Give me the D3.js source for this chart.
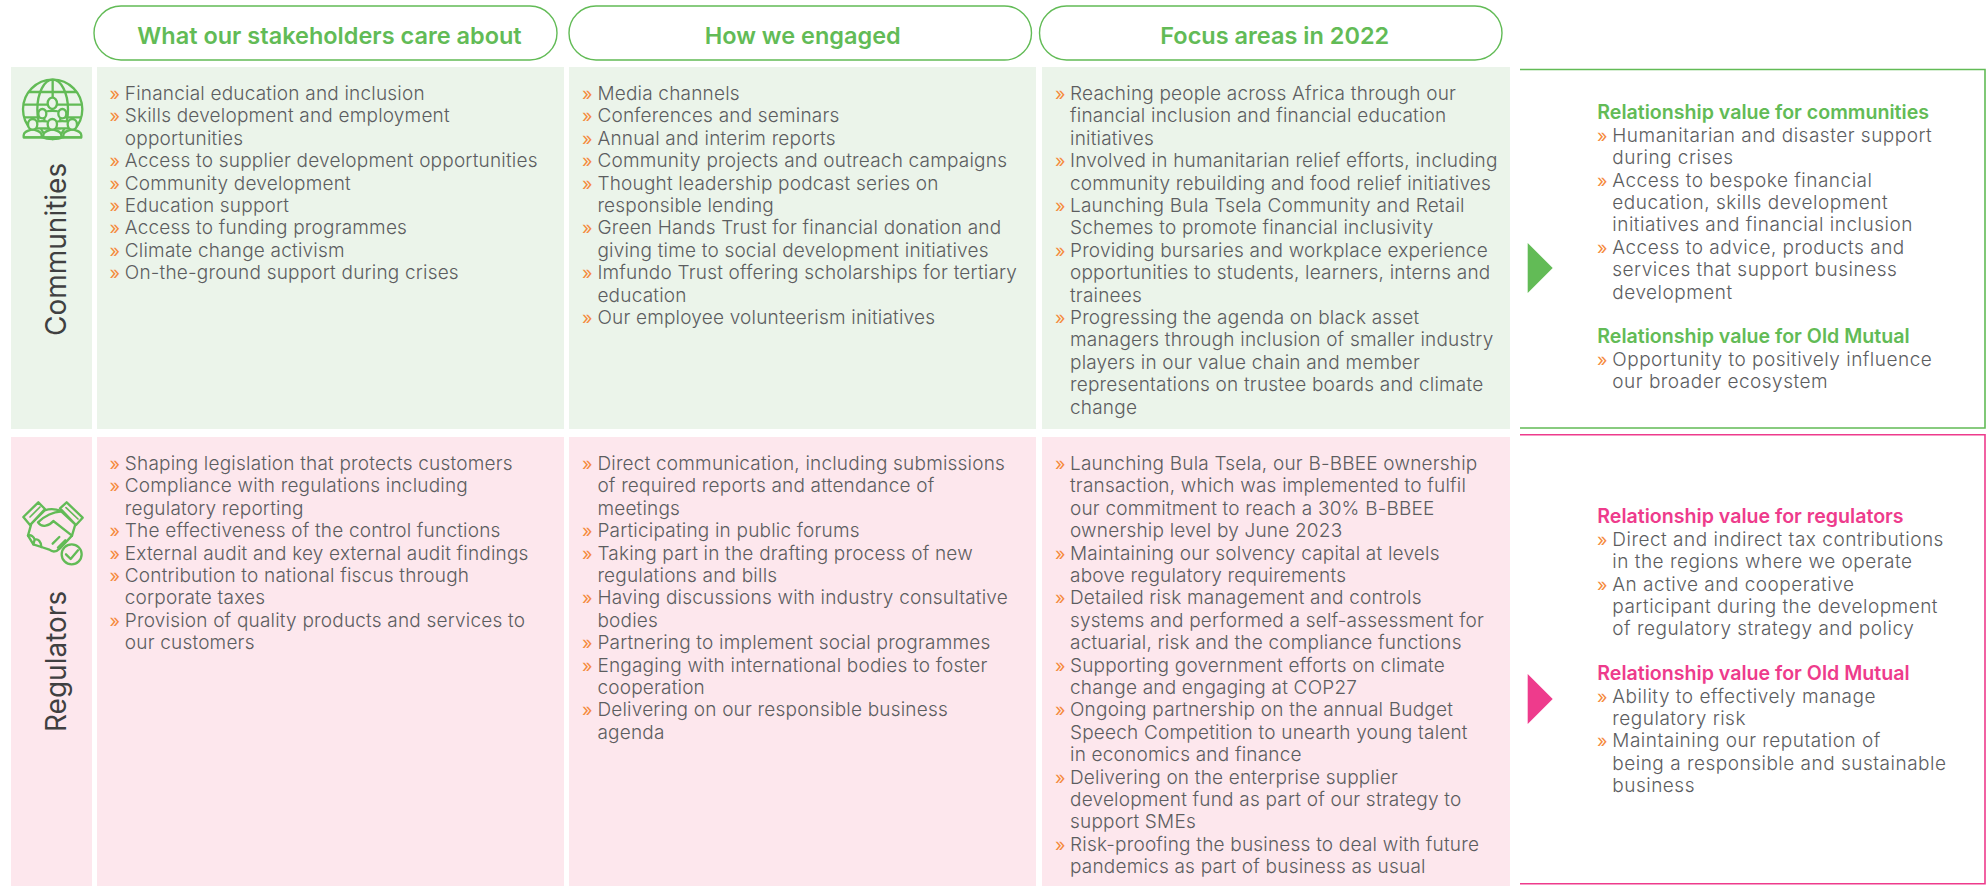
<!DOCTYPE html>
<html>
<head>
<meta charset="utf-8">
<script src="https://cdn.jsdelivr.net/npm/d3@7"></script>
<style>
body{margin:0;background:#fff;overflow:hidden}
text{font-family:Inter,"Open Sans",sans-serif}
.line{font-size:19px;font-weight:300;fill:#5c5d5f;letter-spacing:.2px}
.wide .line{letter-spacing:.5px}
.bullet{font-size:18px;font-weight:400;fill:#f58a3c}
.head{font-size:23.5px;font-weight:600;fill:#62bb56;text-anchor:middle}
.sub{font-size:19.6px;font-weight:600}
.rowlabel{font-size:28px;font-weight:400;fill:#404041}
</style>
</head>
<body>
<div id="chart"></div>
<script>
var headers=["What our stakeholders care about","How we engaged","Focus areas in 2022"];
var rowNames=["Communities","Regulators"];

// every item is a list of wrapped lines, the first one takes the bullet
var communitiesCare=[["Financial education and inclusion"],["Skills development and employment","opportunities"],["Access to supplier development opportunities"],["Community development"],["Education support"],["Access to funding programmes"],["Climate change activism"],["On-the-ground support during crises"]];
var communitiesEngaged=[["Media channels"],["Conferences and seminars"],["Annual and interim reports"],["Community projects and outreach campaigns"],["Thought leadership podcast series on","responsible lending"],["Green Hands Trust for financial donation and","giving time to social development initiatives"],["Imfundo Trust offering scholarships for tertiary","education"],["Our employee volunteerism initiatives"]];
var communitiesFocus=[["Reaching people across Africa through our","financial inclusion and financial education","initiatives"],["Involved in humanitarian relief efforts, including","community rebuilding and food relief initiatives"],["Launching Bula Tsela Community and Retail","Schemes to promote financial inclusivity"],["Providing bursaries and workplace experience","opportunities to students, learners, interns and","trainees"],["Progressing the agenda on black asset","managers through inclusion of smaller industry","players in our value chain and member","representations on trustee boards and climate","change"]];
var regulatorsCare=[["Shaping legislation that protects customers"],["Compliance with regulations including","regulatory reporting"],["The effectiveness of the control functions"],["External audit and key external audit findings"],["Contribution to national fiscus through","corporate taxes"],["Provision of quality products and services to","our customers"]];
var regulatorsEngaged=[["Direct communication, including submissions","of required reports and attendance of","meetings"],["Participating in public forums"],["Taking part in the drafting process of new","regulations and bills"],["Having discussions with industry consultative","bodies"],["Partnering to implement social programmes"],["Engaging with international bodies to foster","cooperation"],["Delivering on our responsible business","agenda"]];
var regulatorsFocus=[["Launching Bula Tsela, our B-BBEE ownership","transaction, which was implemented to fulfil","our commitment to reach a 30% B-BBEE","ownership level by June 2023"],["Maintaining our solvency capital at levels","above regulatory requirements"],["Detailed risk management and controls","systems and performed a self-assessment for","actuarial, risk and the compliance functions"],["Supporting government efforts on climate","change and engaging at COP27"],["Ongoing partnership on the annual Budget","Speech Competition to unearth young talent","in economics and finance"],["Delivering on the enterprise supplier","development fund as part of our strategy to","support SMEs"],["Risk-proofing the business to deal with future","pandemics as part of business as usual"]];

var communitiesValueTitles=["Relationship value for communities","Relationship value for Old Mutual"];
var communitiesValue=[[["Humanitarian and disaster support","during crises"],["Access to bespoke financial","education, skills development","initiatives and financial inclusion"],["Access to advice, products and","services that support business","development"]],[["Opportunity to positively influence","our broader ecosystem"]]];
var regulatorsValueTitles=["Relationship value for regulators","Relationship value for Old Mutual"];
var regulatorsValue=[[["Direct and indirect tax contributions","in the regions where we operate"],["An active and cooperative","participant during the development","of regulatory strategy and policy"]],[["Ability to effectively manage","regulatory risk"],["Maintaining our reputation of","being a responsible and sustainable","business"]]];

var green="#62bb56",pink="#ee3b8c",greenPanel="#ebf4ea",pinkPanel="#fde7ed";
var lineStep=22.4;

var svg=d3.select("#chart").append("svg").attr("width",1986).attr("height",886);

//pills on top, the titles sit a little right of centre
var pills=[[94,557,4],[569,1031.5,2.5],[1039.5,1502,4]];
pills.forEach(function(p,i){
    svg.append("rect").attr("x",p[0]).attr("y",6).attr("width",p[1]-p[0]).attr("height",54).attr("rx",27)
        .attr("fill","#fff").attr("stroke",green).attr("stroke-width",1.4);
    svg.append("text").attr("class","head").attr("x",(p[0]+p[1])/2+p[2]).attr("y",44).text(headers[i]);
});

//panels
var columns=[[97,564,109.5,124.8],[569,1036,582,597.4],[1042,1510,1055,1070]];
var rows=[
    {top:67,bottom:429,first:100,panel:greenPanel,color:green,label:rowNames[0],labelY:336,cols:[communitiesCare,communitiesEngaged,communitiesFocus]},
    {top:437,bottom:886,first:470,panel:pinkPanel,color:pink,label:rowNames[1],labelY:732,cols:[regulatorsCare,regulatorsEngaged,regulatorsFocus]}
];

function drawItems(g,items,bulletX,textX,y,start){//returns next line index
    var n=start;
    items.forEach(function(item){
        g.append("text").attr("class","bullet").attr("x",bulletX).attr("y",y(n)).text("»");
        item.forEach(function(l){
            g.append("text").attr("class","line").attr("x",textX).attr("y",y(n)).text(l);
            n++;
        });
    });
    return n;
}

rows.forEach(function(r){
    svg.append("rect").attr("x",11).attr("y",r.top).attr("width",81).attr("height",r.bottom-r.top).attr("fill",r.panel);
    svg.append("text").attr("class","rowlabel").attr("transform","translate(66,"+r.labelY+") rotate(-90)").text(r.label);
    var y=d3.scaleLinear().domain([0,1]).range([r.first,r.first+lineStep]);
    columns.forEach(function(c,i){
        svg.append("rect").attr("x",c[0]).attr("y",r.top).attr("width",c[1]-c[0]).attr("height",r.bottom-r.top).attr("fill",r.panel);
        drawItems(svg,r.cols[i],c[2],c[3],y,0);
    });
});

//right side boxes
var boxes=[
    {top:69.5,bottom:428,color:green,first:119.3,titles:communitiesValueTitles,groups:communitiesValue,triTop:243},
    {top:434.7,bottom:883.7,color:pink,first:523.3,titles:regulatorsValueTitles,groups:regulatorsValue,triTop:674}
];
var side=svg.append("g").attr("class","wide");
boxes.forEach(function(b){
    side.append("path").attr("fill","none").attr("stroke",b.color).attr("stroke-width",1.6)
        .attr("d","M1520,"+b.top+"H1985V"+b.bottom+"H1520");
    side.append("path").attr("fill",b.color)
        .attr("d","M1527.7,"+b.triTop+"L1552.7,"+(b.triTop+25)+"L1527.7,"+(b.triTop+50)+"Z");
    var y=d3.scaleLinear().domain([0,1]).range([b.first,b.first+lineStep]);
    var n=0;
    b.titles.forEach(function(t,i){
        side.append("text").attr("class","sub").attr("x",1597.3).attr("y",y(n)).attr("fill",b.color).text(t);
        n=drawItems(side,b.groups[i],1597,1612.3,y,n+1)+1;
    });
});

//globe icon, drawn in 3x units like the crop
var globe=svg.append("g").attr("transform","translate(10,70) scale(0.3333)")
    .attr("fill","none").attr("stroke",green).attr("stroke-width",7).attr("stroke-linejoin","round");
globe.append("circle").attr("cx",128).attr("cy",118).attr("r",89);
globe.append("ellipse").attr("cx",128).attr("cy",118).attr("rx",46).attr("ry",89);
globe.append("path").attr("d","M128,29V85M56,66H200M40,104H216M42,142H214");
var persons=[[127,100,14,17,82],[97,131,12,14,0],[157,131,12,14,0],[68,163,14,16,0],[127,163,14,16,0],[187,163,14,16,0]];
persons.forEach(function(p){
    if(p[1]>150){
        globe.append("path").attr("fill",greenPanel).attr("d","M"+(p[0]-27)+",202V196C"+(p[0]-27)+",184 "+(p[0]-12)+",182 "+p[0]+",178C"+(p[0]+12)+",182 "+(p[0]+27)+",184 "+(p[0]+27)+",196V202Z");
    } else {
        globe.append("path").attr("fill",greenPanel).attr("d","M"+(p[0]-24)+",175V"+(p[1]+30)+"C"+(p[0]-24)+","+(p[1]+20)+" "+(p[0]+24)+","+(p[1]+20)+" "+(p[0]+24)+","+(p[1]+30)+"V175Z");
    }
    globe.append("ellipse").attr("fill",greenPanel).attr("cx",p[0]).attr("cy",p[1]).attr("rx",p[2]).attr("ry",p[3]);
});
globe.append("path").attr("d","M40,202H216");

//handshake icon
var hands=svg.append("g").attr("transform","translate(10,495) scale(0.3333)")
    .attr("fill",pinkPanel).attr("stroke",green).attr("stroke-width",7).attr("stroke-linejoin","round").attr("stroke-linecap","round");
hands.append("path").attr("d","M64,86L104,46C122,40 138,42 152,48L196,88L186,122L150,160C140,170 128,172 118,164L94,156L70,148L54,122Z");
hands.append("path").attr("fill","none").attr("d","M152,50C132,50 104,62 84,82C96,100 118,92 130,78L186,122M148,126L128,146M166,136L144,158M54,122C62,118 72,124 74,134M74,134L70,148M74,134C84,130 94,140 94,156");
hands.append("path").attr("d","M40,66L85,22L105,42L60,90Z");
hands.append("path").attr("d","M150,40L170,22L218,68L198,90Z");
hands.append("path").attr("fill","none").attr("stroke-width",5).attr("d","M60,66L90,36M168,38L204,72");
hands.append("circle").attr("cx",185).attr("cy",178).attr("r",30);
hands.append("path").attr("fill","none").attr("d","M168,178L182,192L204,166");
</script>
</body>
</html>
